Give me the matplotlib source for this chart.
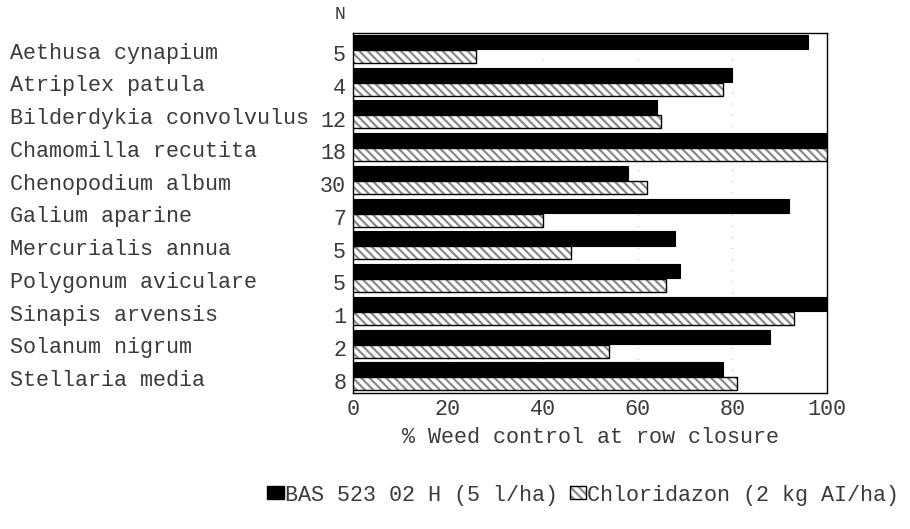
import matplotlib
matplotlib.use("Agg")
import matplotlib.pyplot as plt
from matplotlib.patches import Patch
from matplotlib.legend_handler import HandlerTuple
import numpy as np

plt.rcParams['font.family'] = ['Liberation Mono', 'DejaVu Sans Mono']
plt.rcParams['hatch.linewidth'] = 1.6

species = ["Aethusa cynapium", "Atriplex patula", "Bilderdykia convolvulus",
           "Chamomilla recutita", "Chenopodium album", "Galium aparine",
           "Mercurialis annua", "Polygonum aviculare", "Sinapis arvensis",
           "Solanum nigrum", "Stellaria media"]
n_counts = ["5", "4", "12", "18", "30", "7", "5", "5", "1", "2", "8"]
bas = [96, 80, 64, 100, 58, 92, 68, 69, 100, 88, 78]
chlor = [26, 78, 65, 100, 62, 40, 46, 66, 93, 54, 81]
series_labels = ["BAS 523 02 H (5 l/ha)", "Chloridazon (2 kg AI/ha)"]
xticks = [0, 20, 40, 60, 80, 100]

FS = 15.7
TC = "#3a3a3a"

fig = plt.figure(figsize=(9.1, 5.29), dpi=100)
ax = fig.add_axes([0.388, 0.257, 0.521, 0.681])

y = np.arange(len(species))
ax.barh(y - 0.22, bas, height=0.44, color="black", edgecolor="black", linewidth=0.8, zorder=3)
ax.barh(y + 0.22, chlor, height=0.40, color="white", edgecolor="#8a8a8a", hatch="\\\\\\\\",
        linewidth=0, zorder=3)
ax.barh(y + 0.22, chlor, height=0.40, fill=False, edgecolor="black", linewidth=1.0, zorder=4)

ax.set_xlim(0, 100)
ax.set_ylim(len(species) - 0.5, -0.5)
ax.set_xticks(xticks)
ax.set_xticklabels([str(t) for t in xticks], fontsize=FS, color=TC)
ax.tick_params(axis="x", length=0, pad=4)
ax.set_yticks(y + 0.12)
ax.set_yticklabels(n_counts, fontsize=FS, color=TC)
ax.tick_params(axis="y", length=0, pad=5)
for s in ax.spines.values():
    s.set_linewidth(1.0)
    s.set_color("black")

ax.grid(axis="x", color="#bbbbbb", linestyle=(0, (1, 9)), linewidth=0.8, zorder=1)

for i, name in enumerate(species):
    ax.text(-0.724, i + 0.12, name, transform=ax.get_yaxis_transform(),
            ha="left", va="center", fontsize=FS, color=TC)

ax.annotate("N", xy=(-0.028, 1.0), xycoords="axes fraction", xytext=(0, 7),
            textcoords="offset points", ha="center", va="bottom", fontsize=13, color=TC)

ax.set_xlabel("% Weed control at row closure", fontsize=FS, color=TC, labelpad=5)

h1 = Patch(facecolor="black", edgecolor="black")
h2a = Patch(facecolor="white", edgecolor="#8a8a8a", hatch="\\\\\\\\", linewidth=0)
h2b = Patch(fill=False, edgecolor="black", linewidth=1.0)
fig.legend([h1, (h2a, h2b)], series_labels, loc="center", bbox_to_anchor=(0.641, 0.064),
           ncol=2, frameon=False, fontsize=FS, handlelength=0.75, handleheight=0.55,
           handletextpad=0.05, columnspacing=0.55, labelcolor=TC,
           handler_map={tuple: HandlerTuple(ndivide=1, pad=0)})

fig.savefig("out.png", dpi=100, facecolor="white")
